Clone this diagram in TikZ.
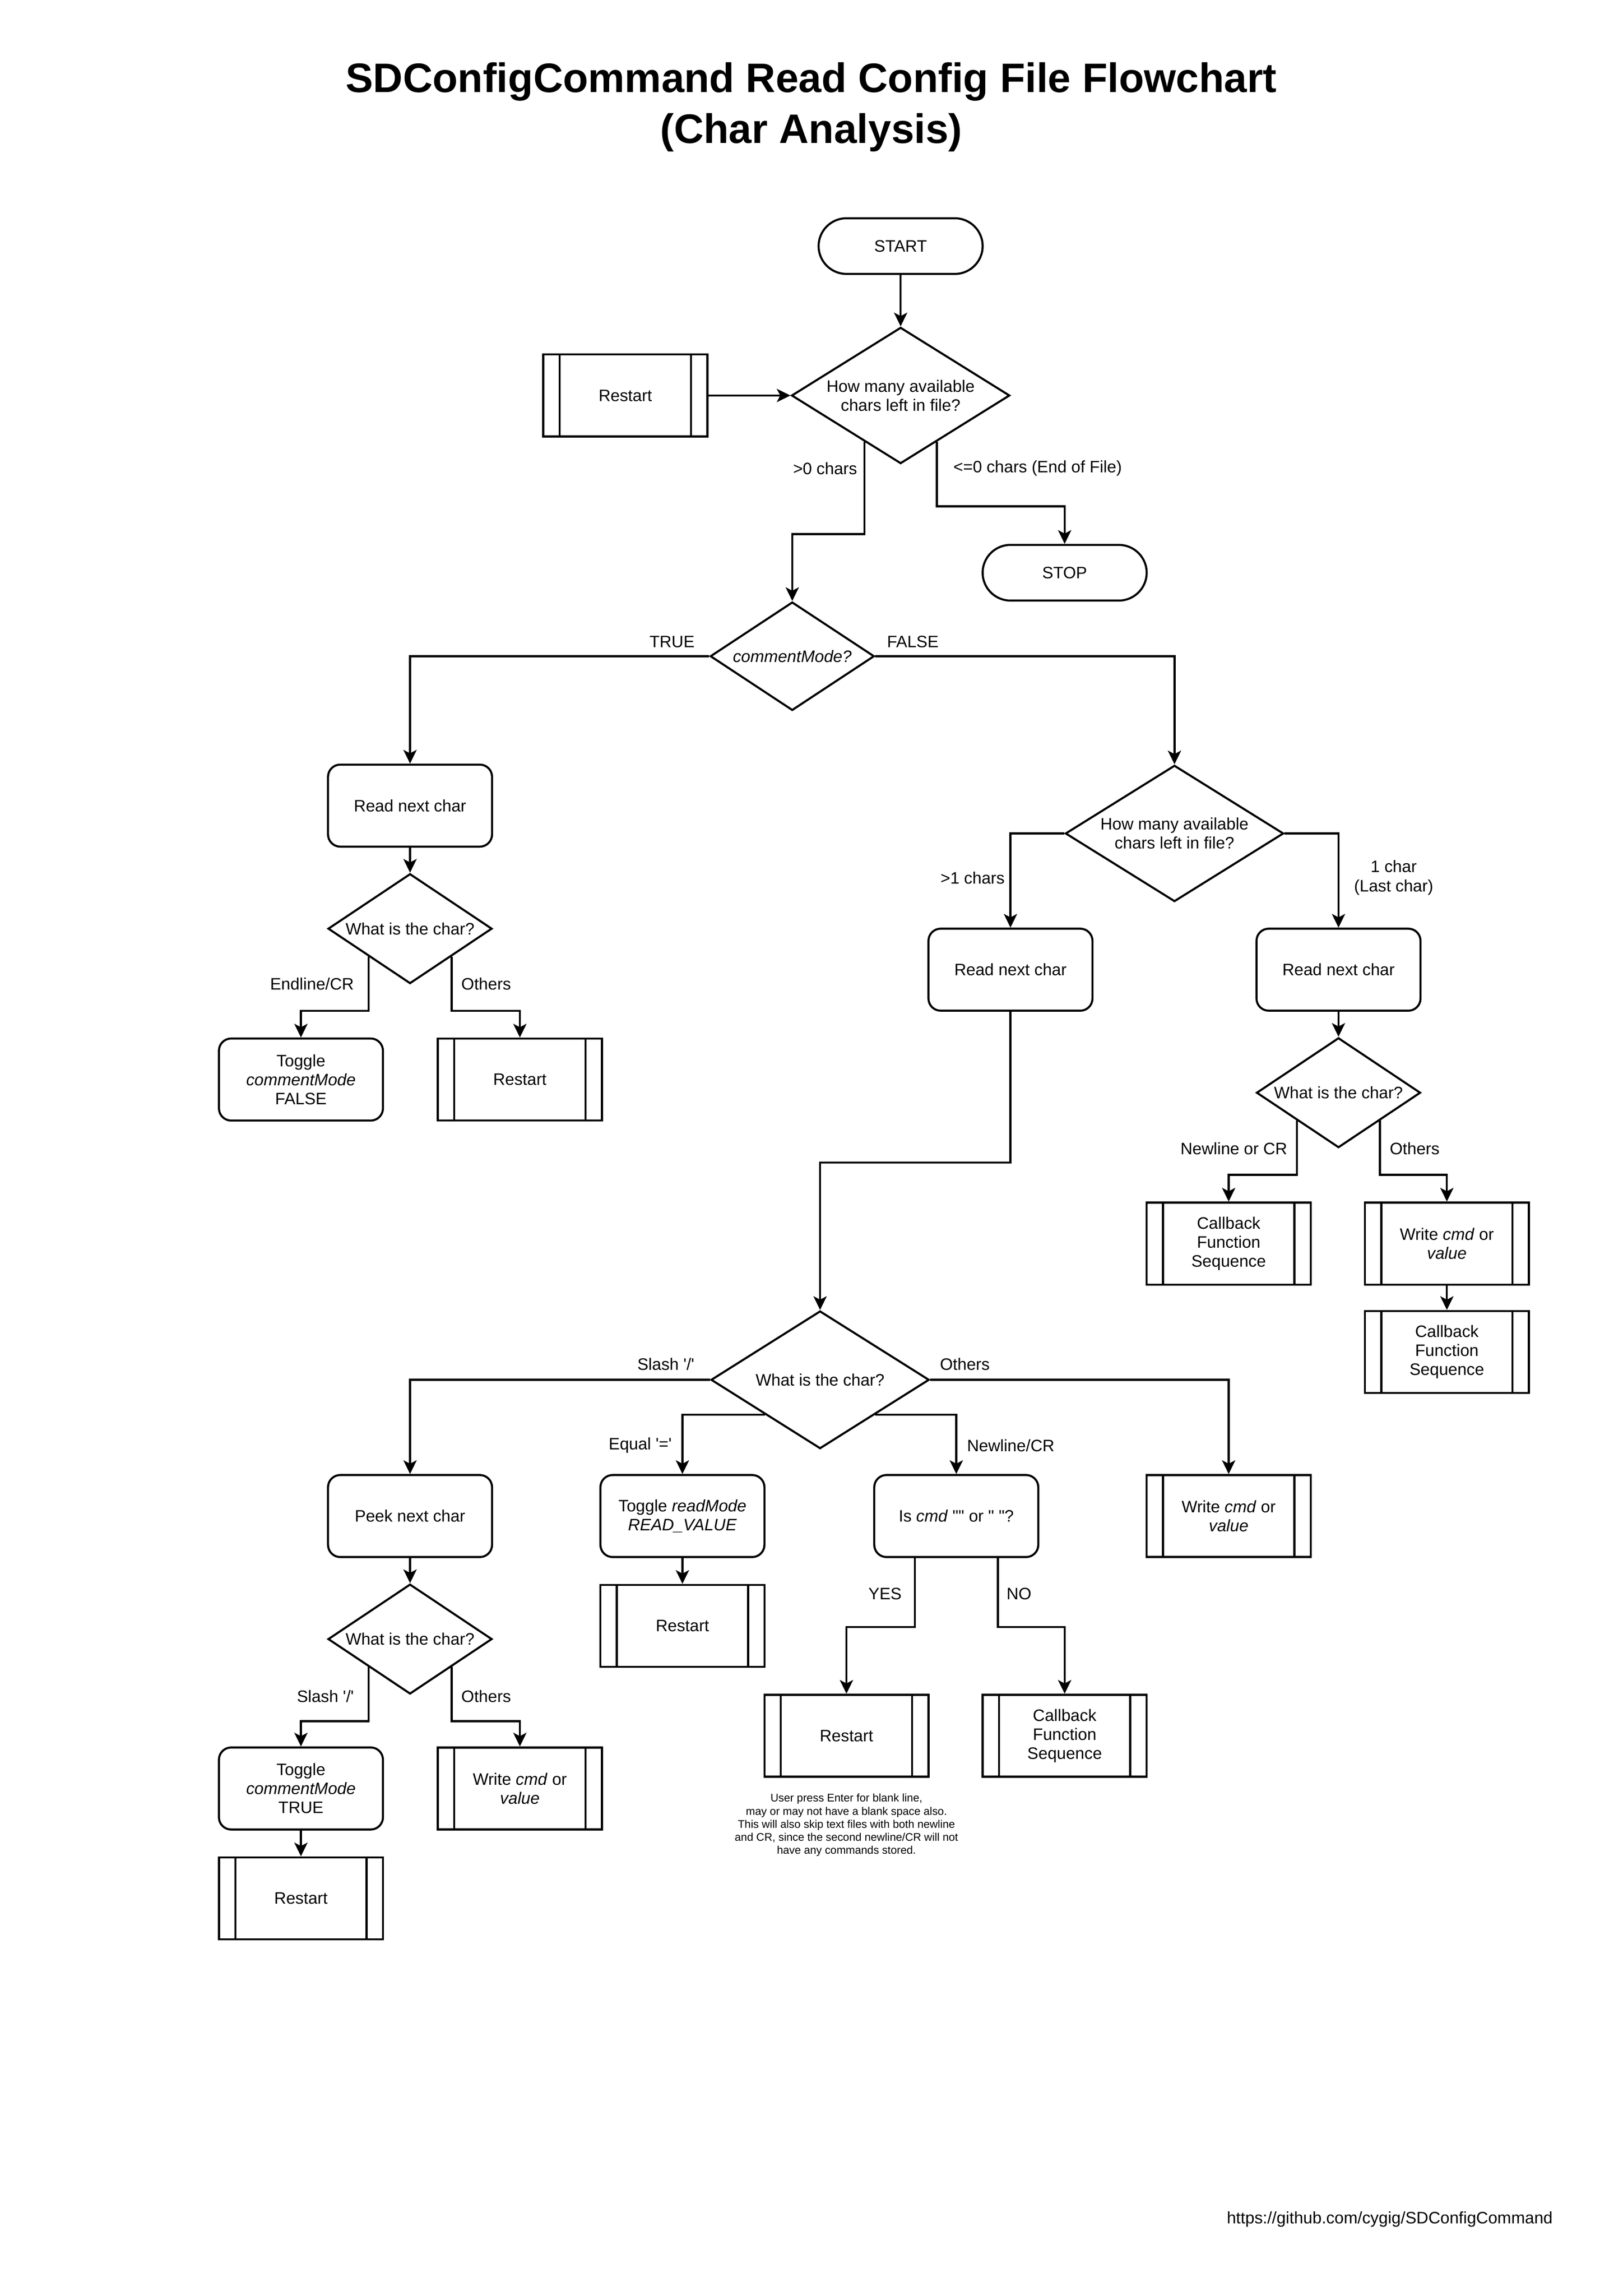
\documentclass[tikz,border=0pt]{standalone}
\usepackage{fontspec}
\newfontfamily\flowfont{Liberation Sans}
\usepackage{tikz}
\usetikzlibrary{shapes,arrows.meta}
\usetikzlibrary{positioning,calc}
\tikzset{every node/.style={font=\flowfont\fontsize{9.65pt}{11.1pt}\selectfont, align=center},
term/.style={draw, rectangle, rounded corners=0.57cm, minimum width=3.36cm, minimum height=1.14cm},
proc/.style={draw, rectangle, rounded corners=0.25cm, minimum width=3.36cm, minimum height=1.68cm, inner sep=0pt},
subproc/.style={draw, rectangle, minimum width=3.36cm, minimum height=1.68cm, inner sep=0pt,
  path picture={\foreach \f in {0.1,0.9}
    \draw[line width=1.2pt] ($(path picture bounding box.north west)!\f!(path picture bounding box.north east)$)
      -- ($(path picture bounding box.south west)!\f!(path picture bounding box.south east)$);}},
decision/.style={draw, diamond, inner sep=0pt, aspect=1.5, minimum width=3.36cm, minimum height=2.25cm},
bigdecision/.style={decision, aspect=1.6, minimum width=4.47cm, minimum height=2.79cm},
lbl/.style={inner sep=0pt, outer sep=0pt}
}

\begin{document}
\begin{tikzpicture}[x=0.03cm, y=-0.03cm, line width=1.2pt,
    >={Stealth[length=0.28cm, width=0.27cm, inset=0.07cm]}]
  \useasboundingbox (0,0) rectangle (1108,1567.5);
  \node[font=\flowfont\bfseries\fontsize{24pt}{29.6pt}\selectfont] (title) at (554,73)
    {SDConfigCommand Read Config File Flowchart\\(Char Analysis)};

  % top: start, restart and end of file
  \node[term] (start) at (615,168) {START};
  \node[subproc] (rs_top) at (427,270) {Restart};
  \node[bigdecision] (d_avail) at (615,270) {How many available\\chars left in file?};
  \node[term] (stop) at (727,391) {STOP};
  \node[decision, minimum height=2.22cm] (d_mode) at (541,448) {\textit{commentMode?}};
  \draw[->] (start) -- (d_avail);
  \draw[->] (rs_top) -- (d_avail);
  \draw[->] (d_avail.232) -- node[lbl, left=0.15cm, pos=0.29] {>0 chars} ++(0,63) -| (d_mode.north);
  \draw[->] (d_avail.308) -- node[lbl, right=0.34cm, pos=0.41] {<=0 chars (End of File)} ++(0,44) -| (stop.north);

  % comment mode
  \node[proc] (r_left) at (280,550) {Read next char};
  \node[decision] (d_cmt) at (280,634) {What is the char?};
  \node[proc] (tg_false) at (205.5,737) {Toggle\\\textit{commentMode}\\FALSE};
  \node[subproc] (rs_cmt) at (355,737) {Restart};
  \draw[->] (d_mode.west) node[lbl, anchor=base east, xshift=-0.3cm, yshift=0.18cm] {TRUE} -| (r_left.north);
  \draw[->] (r_left) -- (d_cmt);
  \draw[->] (d_cmt.south west) -- node[lbl, left=0.3cm, pos=0.5] {Endline/CR} ++(0,37) -| (tg_false.north);
  \draw[->] (d_cmt.south east) -- node[lbl, right=0.2cm, pos=0.5] {Others} ++(0,37) -| (rs_cmt.north);

  % not comment mode
  \node[bigdecision] (d_last) at (802,569) {How many available\\chars left in file?};
  \node[proc] (r_mid) at (690,662) {Read next char};
  \node[proc] (r_right) at (914,662) {Read next char};
  \node[decision] (d_end) at (914,746) {What is the char?};
  \node[subproc] (cb_end) at (839,849) {Callback\\Function\\Sequence};
  \node[subproc] (wr_end) at (988,849) {Write \textit{cmd} or\\\textit{value}};
  \node[subproc] (cb_wr) at (988,923) {Callback\\Function\\Sequence};
  \draw[->] (d_mode.east) node[lbl, anchor=base west, xshift=0.24cm, yshift=0.18cm] {FALSE} -| (d_last.north);
  \draw[->] (d_last.west) -| node[lbl, left=0.12cm, pos=0.735] {>1 chars} (r_mid.north);
  \draw[->] (d_last.east) -| node[lbl, right=0.32cm, pos=0.735] {1 char\\(Last char)} (r_right.north);
  \draw[->] (r_right) -- (d_end);
  \draw[->] (d_end.south west) -- node[lbl, left=0.2cm, pos=0.51] {Newline or CR} ++(0,37) -| (cb_end.north);
  \draw[->] (d_end.south east) -- node[lbl, right=0.2cm, pos=0.51] {Others} ++(0,37) -| (wr_end.north);
  \draw[->] (wr_end) -- (cb_wr);

  % more than one char
  \node[bigdecision, minimum height=2.82cm] (d_char) at (560,942) {What is the char?};
  \node[proc] (peek) at (280,1035) {Peek next char};
  \node[proc] (tg_read) at (466,1035) {Toggle \textit{readMode}\\\textit{READ\_VALUE}};
  \node[proc] (is_cmd) at (653,1035) {Is \textit{cmd} "" or " "?};
  \node[subproc] (wr_other) at (839,1035) {Write \textit{cmd} or\\\textit{value}};
  \node[subproc] (rs_read) at (466,1110) {Restart};
  \node[subproc] (rs_blank) at (578,1185) {Restart};
  \node[subproc] (cb_cmd) at (727,1185) {Callback\\Function\\Sequence};
  \node[font=\flowfont\fontsize{6.45pt}{7.6pt}\selectfont] (note) at (578,1246)
    {User press Enter for blank line,\\may or may not have a blank space also.\\This will also skip text files with both newline\\and CR, since the second newline/CR will not\\have any commands stored.};
  \draw[->] (r_mid.south) -- ++(0,103) -| (d_char.north);
  \draw[->] (d_char.west) node[lbl, anchor=base east, xshift=-0.32cm, yshift=0.2cm] {Slash '/'} -| (peek.north);
  \draw[->] (d_char.east) node[lbl, anchor=base west, xshift=0.2cm, yshift=0.2cm] {Others} -| (wr_other.north);
  \draw[->] (d_char.south west) -| node[lbl, left=0.22cm, pos=0.76] {Equal '='} (tg_read.north);
  \draw[->] (d_char.south east) -| node[lbl, right=0.22cm, pos=0.76] {Newline/CR} (is_cmd.north);
  \draw[->] (tg_read) -- (rs_read);
  \draw[->] ($(is_cmd.south)!0.5!(is_cmd.south west)$) -- node[lbl, left=0.27cm, pos=0.52] {YES} ++(0,47) -| (rs_blank.north);
  \draw[->] ($(is_cmd.south)!0.5!(is_cmd.south east)$) -- node[lbl, right=0.18cm, pos=0.52] {NO} ++(0,47) -| (cb_cmd.north);

  % peek after slash
  \node[decision] (d_peek) at (280,1119) {What is the char?};
  \node[proc] (tg_true) at (205.5,1221) {Toggle\\\textit{commentMode}\\TRUE};
  \node[subproc] (wr_peek) at (355,1221) {Write \textit{cmd} or\\\textit{value}};
  \node[subproc] (rs_true) at (205.5,1296) {Restart};
  \draw[->] (peek) -- (d_peek);
  \draw[->] (d_peek.south west) -- node[lbl, left=0.3cm, pos=0.54] {Slash '/'} ++(0,37) -| (tg_true.north);
  \draw[->] (d_peek.south east) -- node[lbl, right=0.2cm, pos=0.54] {Others} ++(0,37) -| (wr_peek.north);
  \draw[->] (tg_true) -- (rs_true);

  \node (url) at (949,1515) {https://github.com/cygig/SDConfigCommand};
\end{tikzpicture}
\end{document}
